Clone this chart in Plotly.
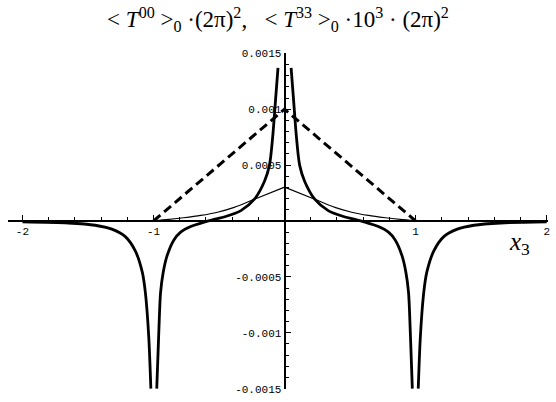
import plotly.graph_objects as go

# <T00>_0 (2pi)^2 : thick curve, split into branches at the singular points
t00_outer_left_x = [-2.0, -1.65, -1.445, -1.318, -1.215, -1.138, -1.085, -1.061, -1.036, -1.02]
t00_outer_left_y = [-0.000008, -0.000018, -0.000038, -0.000073, -0.00014, -0.00027, -0.00046, -0.00065, -0.00104, -0.0015]

t00_inner_left_x = [-0.975, -0.959, -0.946, -0.926, -0.896, -0.844, -0.793, -0.716, -0.614, -0.55,
                    -0.45, -0.333, -0.23, -0.153, -0.115, -0.09, -0.069, -0.05]
t00_inner_left_y = [-0.0015, -0.00098, -0.00064, -0.00046, -0.00031, -0.00017, -0.0001, -0.00005, -0.00001, 0.00001,
                    0.00004, 0.000093, 0.000195, 0.000356, 0.0005, 0.00076, 0.00108, 0.00137]

t00_inner_right_x = [0.05, 0.069, 0.09, 0.115, 0.153, 0.23, 0.333, 0.45, 0.55, 0.614,
                     0.716, 0.793, 0.844, 0.896, 0.926, 0.946, 0.959, 0.975]
t00_inner_right_y = [0.00137, 0.00108, 0.00076, 0.0005, 0.000356, 0.000195, 0.000093, 0.00004, 0.00001, -0.00001,
                     -0.00005, -0.0001, -0.00017, -0.00031, -0.00046, -0.00064, -0.00098, -0.0015]

t00_outer_right_x = [1.02, 1.036, 1.061, 1.085, 1.138, 1.215, 1.318, 1.445, 1.65, 2.0]
t00_outer_right_y = [-0.0015, -0.00104, -0.00065, -0.00046, -0.00027, -0.00014, -0.000073, -0.000038, -0.000018, -0.000008]

# <T33>_0 10^3 (2pi)^2 : thin curve with a cusp at x3 = 0
t33_left_x = [-2.0, -1.2, -1.0, -0.9, -0.77, -0.64, -0.512, -0.384, -0.23, 0.0]
t33_left_y = [0.0, 0.0, 0.000003, 0.000012, 0.000029, 0.00005, 0.000079, 0.000122, 0.000195, 0.000303]
t33_right_x = [0.0, 0.23, 0.384, 0.512, 0.64, 0.77, 0.9, 1.0, 1.2, 2.0]
t33_right_y = [0.000303, 0.000195, 0.000122, 0.000079, 0.00005, 0.000029, 0.000012, 0.000003, 0.0, 0.0]

# dashed triangle
tri_x = [-1.0, 0.0, 1.0]
tri_y = [0.0, 0.001, 0.0]

x_ticks = [-2, -1, 1, 2]
x_tick_text = ["-2", "-1", "1", "2"]
y_ticks = [-0.0015, -0.001, -0.0005, 0.0005, 0.001, 0.0015]
y_tick_text = ["-0.0015", "-0.001", "-0.0005", "0.0005", "0.001", "0.0015"]

fig = go.Figure()

for xs, ys in [(t33_left_x, t33_left_y), (t33_right_x, t33_right_y)]:
    fig.add_trace(go.Scatter(x=xs, y=ys, mode="lines",
                             line=dict(color="black", width=1.1, shape="spline", smoothing=0.8),
                             showlegend=False, hoverinfo="skip"))

fig.add_trace(go.Scatter(x=tri_x, y=tri_y, mode="lines",
                         line=dict(color="black", width=3, dash="9px,5px"),
                         showlegend=False, hoverinfo="skip"))

for xs, ys in [(t00_outer_left_x, t00_outer_left_y), (t00_inner_left_x, t00_inner_left_y),
               (t00_inner_right_x, t00_inner_right_y), (t00_outer_right_x, t00_outer_right_y)]:
    fig.add_trace(go.Scatter(x=xs, y=ys, mode="lines",
                             line=dict(color="black", width=2.8, shape="spline", smoothing=0.8),
                             showlegend=False, hoverinfo="skip"))

x_lo, x_hi = -2.11, 2.01
y_lo, y_hi = -0.001503, 0.001503
tick_font = dict(family="Liberation Mono, DejaVu Sans Mono, monospace", size=11, color="black")

fig.update_layout(
    width=556, height=402,
    margin=dict(l=8, r=8, t=53, b=6),
    paper_bgcolor="white", plot_bgcolor="white",
    title=dict(
        text="&lt; <i>T</i><sup>00</sup> &gt;<sub>0</sub> ·(2π)<sup>2</sup>,&#160;&#160;&#160;"
             "&lt; <i>T</i><sup>33</sup> &gt;<sub>0</sub> ·10<sup>3</sup> · (2π)<sup>2</sup>",
        x=0.5, xanchor="center", y=0.952, yanchor="middle",
        font=dict(family="Liberation Serif, DejaVu Serif, serif", size=23, color="black"),
    ),
    xaxis=dict(
        range=[x_lo, x_hi], anchor="free", position=0.5,
        showgrid=False, zeroline=False,
        showline=True, linecolor="black", linewidth=2,
        tickmode="array", tickvals=x_ticks, ticktext=x_tick_text,
        ticks="inside", ticklen=5, tickwidth=1, tickcolor="black",
        minor=dict(dtick=0.2, tick0=0, ticks="inside", ticklen=3, tickcolor="black"),
        tickfont=tick_font, ticklabeloverflow="allow",
    ),
    yaxis=dict(
        range=[y_lo, y_hi], anchor="free", position=(0 - x_lo) / (x_hi - x_lo),
        showgrid=False, zeroline=False,
        showline=True, linecolor="black", linewidth=2,
        tickmode="array", tickvals=y_ticks, ticktext=y_tick_text,
        ticks="inside", ticklen=5, tickwidth=1, tickcolor="black",
        minor=dict(dtick=0.0001, tick0=0, ticks="inside", ticklen=3, tickcolor="black"),
        tickfont=tick_font, ticklabeloverflow="allow",
    ),
)

fig.add_annotation(
    x=1.79, y=-0.0002, xref="x", yref="y",
    text="<i>x</i><sub>3</sub>", showarrow=False,
    font=dict(family="Liberation Serif, DejaVu Serif, serif", size=25, color="black"),
)

fig.write_html("out.html")
